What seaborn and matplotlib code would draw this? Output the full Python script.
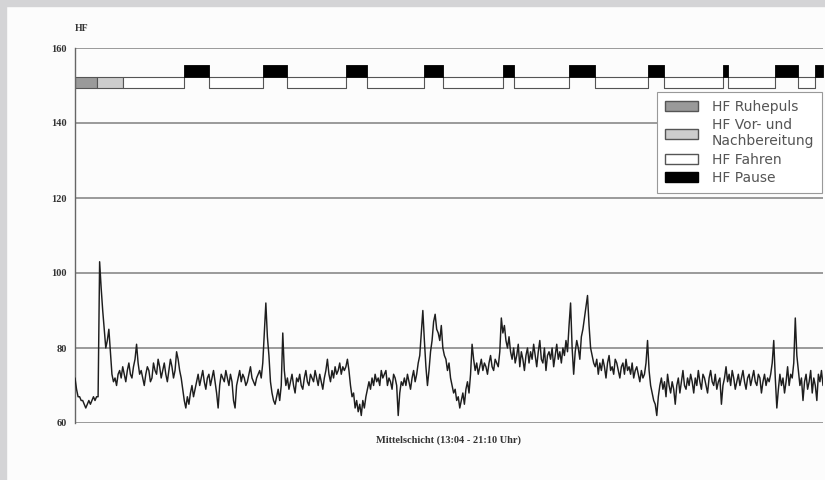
import numpy as np
import pandas as pd
import matplotlib.pyplot as plt
import matplotlib.patches as mpatches
import seaborn as sns

# Herzfrequenz, ein Wert pro Minute ab 13:04
hf = (
    [72, 69, 67, 67, 66, 66, 65, 64, 65, 66, 65, 66, 67, 66, 67]
    + [67, 103, 96, 90, 85, 80, 82, 85, 79, 73, 71, 72, 70, 73, 74]
    + [72, 75, 73, 71, 74, 76, 73, 72, 75, 77, 81, 76, 73, 74, 72, 70, 73, 75, 74, 71,
       72, 76, 74, 73, 77, 75, 72, 74, 76, 73, 71, 74, 77, 75, 72, 74, 79, 77, 74, 72]
    + [69, 66, 64, 67, 65, 68, 70, 67, 69]
    + [71, 73, 70, 72, 74, 71, 69, 72, 73, 70, 72, 74, 71, 68, 64,
       70, 73, 72, 71, 74, 72, 70, 73, 71, 66, 64, 70, 72, 74, 71, 73, 72, 70, 71, 73,
       75, 72, 71, 70, 72, 73, 74]
    + [72, 76, 84, 92, 83, 78]
    + [71, 68, 66, 65, 67, 69, 66, 70, 84]
    + [74, 70, 72, 69, 71, 73, 70, 68, 72, 71, 73, 70, 69, 72, 74, 71, 70, 73, 72, 71,
       74, 72, 70, 73, 71, 69, 72, 74, 77, 73, 71, 74, 72, 75, 73, 74, 76, 73, 75, 74]
    + [75, 77, 74]
    + [70, 67, 68, 64, 66, 63, 65, 62, 66, 64, 67, 69]
    + [71, 69, 72, 70, 73, 71, 72, 70, 74, 72, 73, 74, 70, 72, 71, 69, 73, 72, 70, 62,
       68, 71, 70]
    + [72, 70, 73, 71, 69, 72, 74, 71, 73, 76, 78]
    + [84, 90, 82, 75, 70, 74]
    + [79, 82, 87, 89, 85, 84, 82, 86, 80, 78]
    + [77, 74, 76, 72, 70, 68, 69, 66, 67, 64]
    + [66, 68, 65, 69, 71, 68, 73]
    + [81, 77]
    + [74, 76, 73, 75, 77, 74, 76, 75, 73, 76, 78, 75, 74, 77, 76, 75]
    + [79, 88, 84, 86, 82, 80, 83]
    + [79, 77, 80, 76, 78, 81, 75, 79, 77, 74, 78, 80, 76, 79, 77, 81, 78, 75, 79, 82,
       77, 76, 80, 74, 78, 79, 77, 80, 75, 78, 81, 77, 79, 76, 80, 78, 82, 79]
    + [86, 92, 80, 73, 79, 82, 80, 77, 83, 85, 88, 91, 94, 86, 80]
    + [78, 76, 75, 77, 73, 76, 74, 77, 75, 72, 76, 78, 74, 75, 73, 77, 76, 74, 72, 75,
       76, 73, 77, 74, 75, 73, 76, 72, 74, 75, 73, 71, 74, 72, 73]
    + [76, 82, 74, 70]
    + [68, 66, 65, 62, 67, 70]
    + [72, 69, 71, 67, 73, 70, 68, 71, 69, 65, 70, 72, 68, 71, 74, 70, 69, 72, 70, 73,
       71, 68, 72, 70, 74, 71, 69, 73, 72, 70, 68, 72, 74, 71, 70, 73, 69, 71, 72, 65,
       70, 72, 75, 71, 73, 70, 74, 72, 69, 71, 73, 70, 72, 74, 71, 69, 72, 73, 70, 72,
       74, 71, 70, 73, 72, 68, 71, 73, 70, 72, 71, 73]
    + [76, 82, 72, 64, 69]
    + [73, 70, 72, 68, 71, 75, 70, 73, 72, 76]
    + [88, 78, 74, 70, 72]
    + [66, 71, 73, 69, 71, 74, 68, 72, 70, 66, 73, 71, 74, 70]
)
minutes = np.arange(len(hf))

# Phasen (Minuten ab Schichtbeginn)
ruhepuls = [(0, 14)]
vorbereitung = [(14, 31)]
pausen = [(71, 87), (122, 138), (176, 190), (227, 239), (278, 285),
          (321, 338), (372, 383), (421, 424), (455, 470), (481, 486)]
t_end = 486

band_low, band_mid, band_high = 149.3, 152.3, 155.5

yticks = [60, 80, 100, 120, 140, 160]

# Fahrphasen = alles ausser Pausen nach der Vorbereitung
fahren = []
start = vorbereitung[-1][1]
for a, b in pausen:
    if a > start:
        fahren.append((start, a))
    start = b
if start < t_end:
    fahren.append((start, t_end))

df = pd.DataFrame({"Minute": minutes, "HF": hf})

sns.set_theme(style="white")
plt.rcParams['font.family'] = ['Liberation Serif', 'DejaVu Serif']

fig = plt.figure(figsize=(8.25, 4.8), dpi=100, facecolor="#fcfcfc")
ax = fig.add_axes([75 / 825, 1 - 423 / 480, 748 / 825, 375 / 480])
ax.set_facecolor("#fcfcfc")

# grauer Rahmen oben und links
fig.patches.append(mpatches.Rectangle((0, 1 - 6 / 480), 1, 6 / 480, transform=fig.transFigure,
                                      color="#d4d4d6", zorder=-1))
fig.patches.append(mpatches.Rectangle((0, 0), 6 / 825, 1, transform=fig.transFigure,
                                      color="#d4d4d6", zorder=-1))

for y in yticks:
    ax.axhline(y, color="#7f7f7f", lw=1.1, zorder=1)

sns.lineplot(data=df, x="Minute", y="HF", ax=ax, color="#1e1e1e", lw=1.05, zorder=3)

edge = "#555555"
for a, b in ruhepuls:
    ax.fill_between([a, b], band_low, band_mid, color="#9a9a9a", edgecolor=edge, lw=0.8, zorder=2)
for a, b in vorbereitung:
    ax.fill_between([a, b], band_low, band_mid, color="#cdcdcd", edgecolor=edge, lw=0.8, zorder=2)
for a, b in fahren:
    ax.fill_between([a, b], band_low, band_mid, color="white", edgecolor=edge, lw=0.8, zorder=2)
for a, b in pausen:
    ax.fill_between([a, b], band_mid, band_high, color="black", edgecolor="black", lw=0.6, zorder=2)

ax.set_xlim(0, t_end)
ax.set_ylim(60, 160)
ax.set_yticks(yticks)
ax.set_yticklabels([str(v) for v in yticks], fontsize=7.5, fontweight="bold", color="#333333")
ax.set_xticks([])
ax.tick_params(axis="y", length=0, pad=6)
ax.set_ylabel("")
ax.set_xlabel("Mittelschicht (13:04 - 21:10 Uhr)", fontsize=7.5, fontweight="bold",
              color="#333333", labelpad=9)
ax.text(0.0, 1.04, "HF", transform=ax.transAxes, fontsize=7, fontweight="bold",
        color="#333333", ha="left", va="bottom")

for s in ["top", "right", "bottom"]:
    ax.spines[s].set_visible(False)
ax.spines["left"].set_color("#666666")
ax.spines["left"].set_linewidth(1.0)

handles = [
    mpatches.Patch(facecolor="#9a9a9a", edgecolor=edge, label="HF Ruhepuls"),
    mpatches.Patch(facecolor="#cdcdcd", edgecolor=edge, label="HF Vor- und\nNachbereitung"),
    mpatches.Patch(facecolor="white", edgecolor=edge, label="HF Fahren"),
    mpatches.Patch(facecolor="black", edgecolor="black", label="HF Pause"),
]
leg = ax.legend(handles=handles, loc="upper right", bbox_to_anchor=(0.999, 0.883),
                borderaxespad=0, frameon=True, fancybox=False, framealpha=1,
                prop={"family": "DejaVu Sans", "size": 10}, labelcolor="#555555",
                handlelength=2.4, handleheight=0.75, handletextpad=1.0,
                labelspacing=0.32, borderpad=0.55)
leg.get_frame().set_edgecolor("#999999")
leg.get_frame().set_linewidth(0.8)
leg.set_zorder(5)

fig.savefig("out.png", dpi=100, facecolor=fig.get_facecolor())
